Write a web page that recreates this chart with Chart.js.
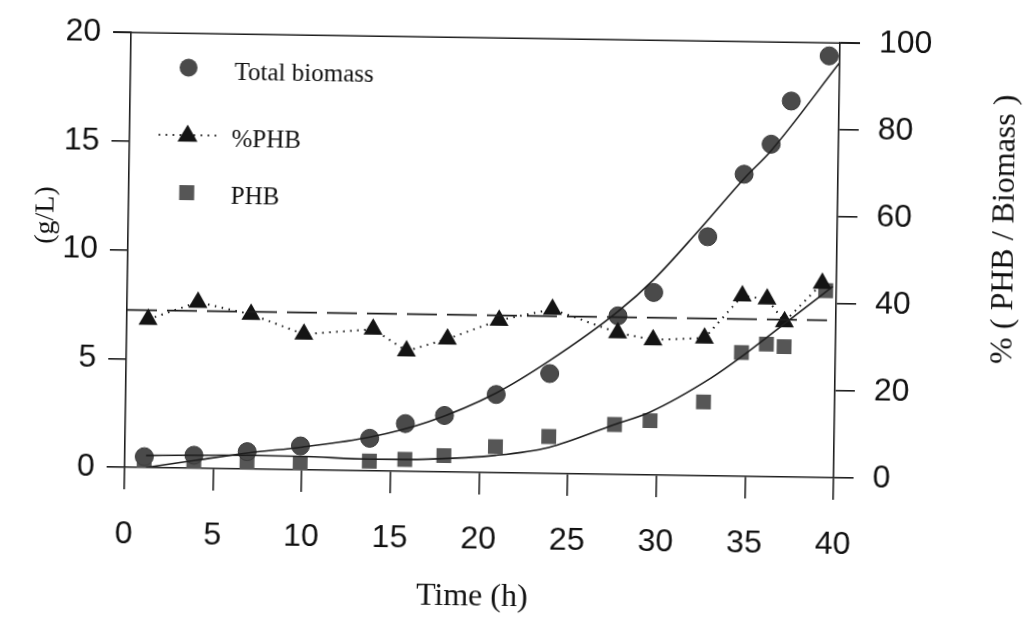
<!DOCTYPE html>
<html>
<head>
<meta charset="utf-8">
<title>Biomass and PHB</title>
<script src="https://cdn.jsdelivr.net/npm/chart.js@4.4.1/dist/chart.umd.min.js"></script>
<style>
  html, body { margin: 0; padding: 0; background: #fff; overflow: hidden; }
  #wrap { width: 1025px; height: 623px; transform: rotate(0.85deg); transform-origin: 50% 50%; }
</style>
</head>
<body>
<div id="wrap"><canvas id="chart" width="1025" height="623"></canvas></div>
<script>
// ---- measured samples ----
const biomassTime = [1.1, 3.9, 6.9, 9.9, 13.8, 15.8, 18.0, 20.9, 23.9, 27.7, 29.7, 32.7, 34.7, 36.2, 37.3, 39.4];
const biomassGL   = [0.5, 0.6, 0.8, 1.1, 1.5, 2.2, 2.6, 3.6, 4.6, 7.3, 8.4, 11.0, 13.9, 15.3, 17.3, 19.4];

const phbTime = [1.1, 3.9, 6.9, 9.9, 13.8, 15.8, 18.0, 20.9, 23.9, 27.6, 29.6, 32.6, 34.7, 36.1, 37.1, 39.4];
const phbGL   = [0.2, 0.23, 0.27, 0.3, 0.45, 0.55, 0.75, 1.2, 1.7, 2.3, 2.5, 3.4, 5.7, 6.1, 6.0, 8.6];

const pctTime = [1.2, 4.0, 7.0, 10.0, 13.9, 15.8, 18.1, 21.0, 24.0, 27.7, 29.7, 32.6, 34.7, 36.1, 37.1, 39.2];
const pctPHB  = [34.1, 38.2, 35.6, 31.2, 32.6, 27.7, 30.6, 35.1, 37.8, 32.6, 31.1, 31.7, 41.5, 40.9, 35.7, 44.7];

// ---- fitted curves ----
const biomassFitTime = [1.2, 4, 7, 10, 13.8, 17.1, 20.9, 23.9, 27.7, 29.7, 32.1, 34.7, 36.2, 40];
const biomassFitGL   = [0, 0.37, 0.75, 1.05, 1.55, 2.3, 3.67, 5.2, 7.5, 9.0, 11.2, 13.7, 15.0, 19.1];

const phbFitTime = [1.2, 4, 7, 10, 13.8, 17.1, 20.9, 23.9, 27.6, 29.6, 33, 34.7, 36.1, 37.8, 39.8];
const phbFitGL   = [0.56, 0.6, 0.63, 0.62, 0.54, 0.58, 0.8, 1.2, 2.3, 2.9, 4.5, 5.5, 6.4, 7.5, 8.8];

// average %PHB over the run
const meanPctTime = [0, 39.5];
const meanPct     = [36.2, 36.2];

// ---- axis ticks ----
const timeTicks = [0, 5, 10, 15, 20, 25, 30, 35, 40];
const glTicks   = [0, 5, 10, 15, 20];
const pctTicks  = [0, 20, 40, 60, 80, 100];

const INK = '#1e1e1e';
const CIRCLE = '#4a4a4a';
const SQUARE = '#565656';
const TRI = '#141414';
const SANS = "'Liberation Sans', Arial, sans-serif";
const SERIF = "'Liberation Serif', 'Times New Roman', serif";

const pts = (xs, ys) => xs.map((x, i) => ({ x, y: ys[i] }));

// frame top, legend and axis titles
const decorations = {
  id: 'decorations',
  afterDraw(chart) {
    const { ctx, chartArea: a } = chart;
    ctx.save();
    ctx.strokeStyle = INK;
    ctx.lineWidth = 1.6;
    ctx.beginPath();
    ctx.moveTo(a.left - 18, a.top);
    ctx.lineTo(a.right + 20, a.top);
    ctx.stroke();

    // legend
    const mx = 185;
    ctx.fillStyle = CIRCLE;
    ctx.beginPath();
    ctx.arc(mx, 72.5, 9, 0, Math.PI * 2);
    ctx.fill();

    ctx.setLineDash([1.5, 5.5]);
    ctx.lineWidth = 2;
    ctx.strokeStyle = TRI;
    ctx.beginPath();
    ctx.moveTo(156, 140);
    ctx.lineTo(216, 140);
    ctx.stroke();
    ctx.setLineDash([]);
    ctx.fillStyle = TRI;
    ctx.beginPath();
    ctx.moveTo(mx, 129.5);
    ctx.lineTo(mx + 10, 146.5);
    ctx.lineTo(mx - 10, 146.5);
    ctx.closePath();
    ctx.fill();

    ctx.fillStyle = SQUARE;
    ctx.fillRect(mx - 7.5, 190, 15, 15);

    ctx.fillStyle = '#111';
    ctx.font = '25px ' + SERIF;
    ctx.textBaseline = 'middle';
    ctx.textAlign = 'left';
    ctx.fillText('Total biomass', 231, 77);
    ctx.fillText('%PHB', 229, 144);
    ctx.fillText('PHB', 229, 201);

    // axis titles
    ctx.textAlign = 'center';
    ctx.font = '32px ' + SERIF;
    ctx.fillText('Time (h)', 476, 598);

    ctx.save();
    ctx.translate(45, 222);
    ctx.rotate(-Math.PI / 2);
    ctx.font = '28px ' + SERIF;
    ctx.fillText('(g/L)', 0, 0);
    ctx.restore();

    ctx.save();
    ctx.translate(1004, 222);
    ctx.rotate(-Math.PI / 2);
    ctx.font = '32px ' + SERIF;
    ctx.fillText('% ( PHB / Biomass )', 0, 0);
    ctx.restore();

    ctx.restore();
  }
};

const tickFont = { family: SANS, size: 32 };
const axisGrid = (len) => ({ drawOnChartArea: false, drawTicks: true, tickLength: len, color: INK, lineWidth: 1.6 });

new Chart(document.getElementById('chart'), {
  type: 'line',
  data: {
    datasets: [
      {
        label: 'Total biomass fit', data: pts(biomassFitTime, biomassFitGL), yAxisID: 'y',
        borderColor: INK, borderWidth: 1.6, pointRadius: 0, cubicInterpolationMode: 'monotone', order: 0
      },
      {
        label: 'PHB fit', data: pts(phbFitTime, phbFitGL), yAxisID: 'y',
        borderColor: INK, borderWidth: 1.6, pointRadius: 0, cubicInterpolationMode: 'monotone', order: 0
      },
      {
        label: 'mean %PHB', data: pts(meanPctTime, meanPct), yAxisID: 'y1',
        borderColor: INK, borderWidth: 1.6, borderDash: [30, 10], pointRadius: 0, order: 0
      },
      {
        label: '%PHB', data: pts(pctTime, pctPHB), yAxisID: 'y1',
        borderColor: TRI, borderWidth: 2, borderDash: [1.5, 5.5], tension: 0,
        pointStyle: 'triangle', pointRadius: 11, pointBackgroundColor: TRI, pointBorderWidth: 0, order: 1
      },
      {
        label: 'Total biomass', data: pts(biomassTime, biomassGL), yAxisID: 'y', showLine: false,
        pointStyle: 'circle', pointRadius: 9, pointBackgroundColor: CIRCLE, pointBorderColor: '#3a3a3a',
        pointBorderWidth: 1, order: 2
      },
      {
        label: 'PHB', data: pts(phbTime, phbGL), yAxisID: 'y', showLine: false,
        pointStyle: 'rect', pointRadius: 10.5, pointBackgroundColor: SQUARE, pointBorderWidth: 0, order: 3
      }
    ]
  },
  options: {
    responsive: false,
    animation: false,
    events: [],
    layout: { padding: { top: 32, left: 0, right: 0, bottom: 0 } },
    plugins: { legend: { display: false }, tooltip: { enabled: false } },
    scales: {
      x: {
        type: 'linear', min: 0, max: 40,
        afterBuildTicks: (s) => { s.ticks = timeTicks.map(v => ({ value: v })); },
        afterFit: (s) => { s.height = 150; },
        ticks: { font: tickFont, color: '#111', padding: 26 },
        border: { color: INK, width: 1.6 },
        grid: axisGrid(22)
      },
      y: {
        position: 'left', min: 0, max: 20,
        afterBuildTicks: (s) => { s.ticks = glTicks.map(v => ({ value: v })); },
        afterFit: (s) => { s.width = 127; },
        ticks: { font: tickFont, color: '#111', padding: 12 },
        border: { color: INK, width: 1.6 },
        grid: axisGrid(18)
      },
      y1: {
        position: 'right', min: 0, max: 100,
        afterBuildTicks: (s) => { s.ticks = pctTicks.map(v => ({ value: v })); },
        afterFit: (s) => { s.width = 189; },
        ticks: { font: tickFont, color: '#111', padding: 19 },
        border: { color: INK, width: 1.6 },
        grid: axisGrid(20)
      }
    }
  },
  plugins: [decorations]
});
</script>
</body>
</html>
